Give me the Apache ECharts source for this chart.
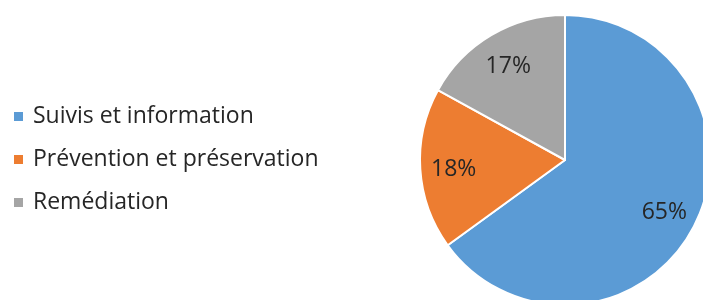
<!DOCTYPE html>
<html>
<head>
<meta charset="utf-8">
<script src="https://cdn.jsdelivr.net/npm/echarts@6/dist/echarts.min.js"></script>
<style>
  html, body { margin: 0; padding: 0; background: #fff; }
</style>
</head>
<body>
<div id="chart" style="width: 703px; height: 300px"></div>
<script>
const categories = ["Suivis et information", "Prévention et préservation", "Remédiation"];
const shares = [65, 18, 17];
const colors = ["#5B9BD5", "#ED7D31", "#A5A5A5"];

const pieData = categories.map((name, i) => ({ name: name, value: shares[i] }));

const chartInstance = echarts.init(document.getElementById("chart"));

const option = {
  animation: false,
  color: colors,
  legend: {
    orient: "vertical",
    left: 7,
    top: 100,
    itemWidth: 11,
    itemHeight: 11,
    itemGap: 20,
    icon: "rect",
    textStyle: {
      fontFamily: "Open Sans",
      fontSize: 23,
      lineHeight: 23,
      color: "#262626",
      padding: [0, 0, 0, 4],
    },
    data: categories,
  },
  series: [
    {
      type: "pie",
      center: [565, 160],
      radius: [0, 145],
      startAngle: 90,
      clockwise: true,
      itemStyle: { borderColor: "#fff", borderWidth: 2 },
      label: { show: false },
      labelLine: { show: false },
      emphasis: { disabled: true },
      data: pieData,
    },
    // transparent ring only used to put labels at ~3/4 of the radius
    {
      type: "pie",
      center: [565, 162],
      radius: [72, 145],
      startAngle: 90,
      clockwise: true,
      silent: true,
      legendHoverLink: false,
      itemStyle: { color: "transparent", borderWidth: 0 },
      label: {
        show: true,
        position: "inside",
        formatter: "{c}%",
        fontFamily: "Open Sans",
        fontSize: 23,
        color: "#262626",
      },
      labelLine: { show: false },
      emphasis: { disabled: true },
      data: pieData,
    },
  ],
};

chartInstance.setOption(option);
</script>
</body>
</html>
